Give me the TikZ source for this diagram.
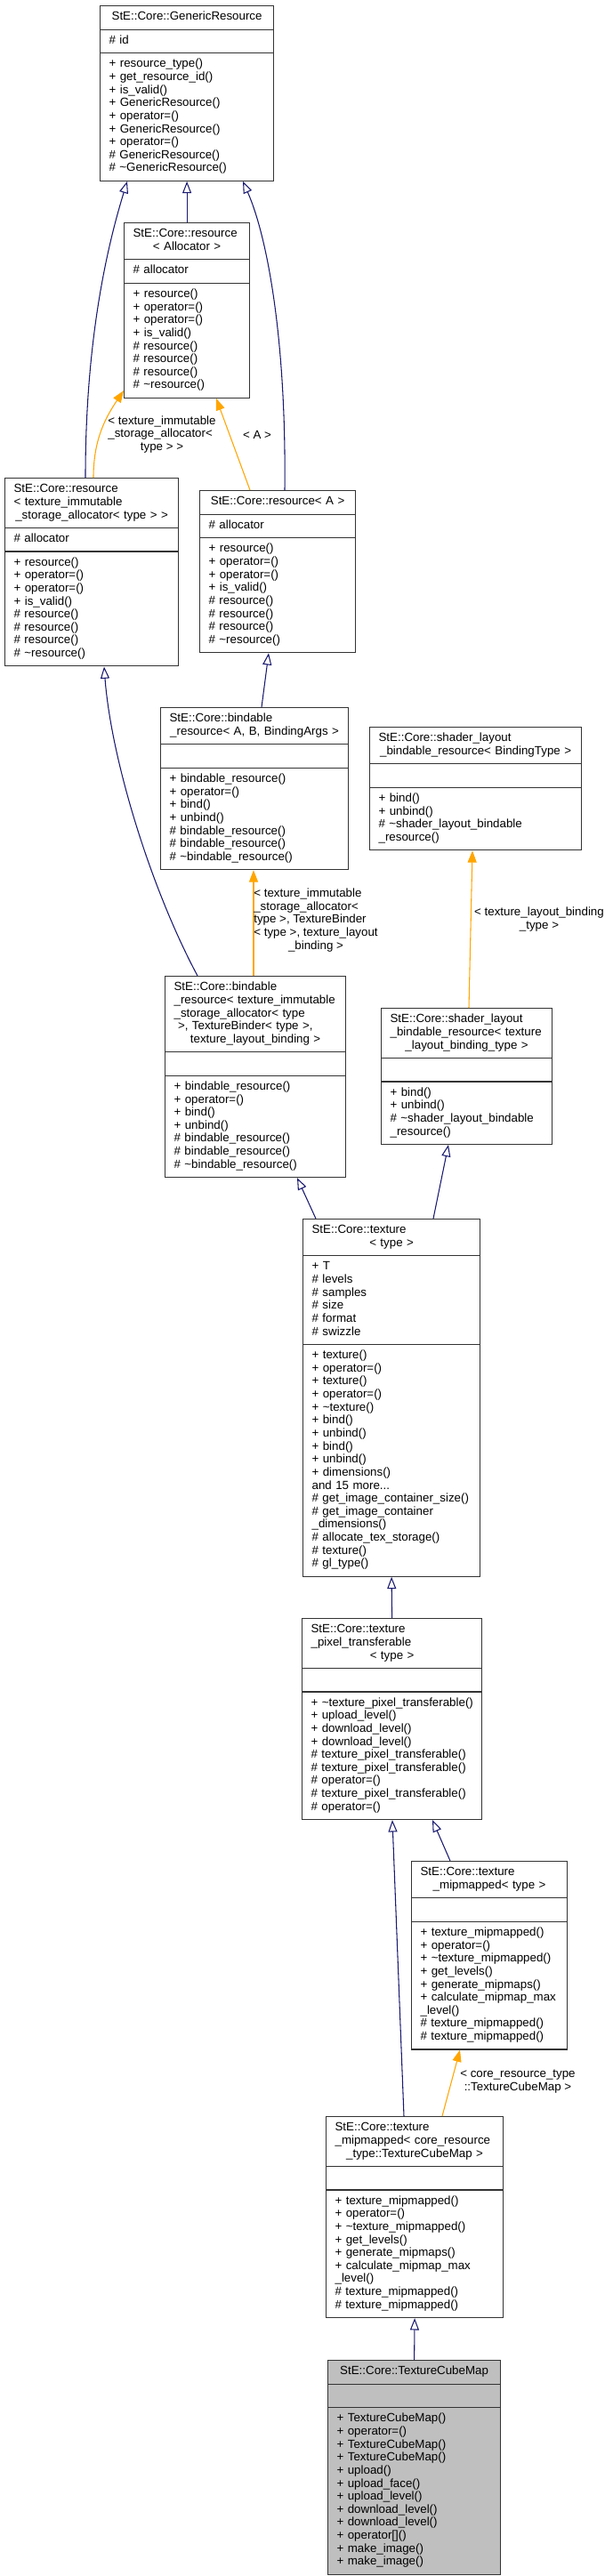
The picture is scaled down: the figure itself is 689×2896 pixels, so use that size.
\documentclass[tikz,border=0pt]{standalone}
\usepackage{fontspec}
\setmainfont{Liberation Sans}
\usetikzlibrary{shapes.multipart,arrows.meta}

\definecolor{midnight}{HTML}{191970}
\definecolor{tmplorange}{HTML}{FFA500}

\newcommand{\titleline}[1]{\makebox[\hsize][l]{\strut#1}}
\newcommand{\titlelast}[1]{\makebox[\hsize][c]{\strut#1}}
\newcommand{\memberlist}[1]{\begin{tabular}{@{}l@{}}#1\end{tabular}}
\newcommand{\labellines}[2]{\begin{tabular}{@{}l@{}}#1\\\multicolumn{1}{@{}c@{}}{#2}\end{tabular}}

\tikzset{
	cls/.style={rectangle split, rectangle split parts=3, draw=black!80, line width=0.9pt,
		fill=white, inner xsep=7.5pt, inner ysep=4pt, align=left, anchor=north west,
		font=\fontsize{10pt}{10.98pt}\selectfont},
	lbl/.style={inner sep=0pt, font=\fontsize{10pt}{10.98pt}\selectfont},
	inherit/.style={draw=midnight, line width=0.8pt, -{Triangle[open, length=10pt, width=7.5pt]}},
	templ/.style={draw=tmplorange, line width=0.8pt, -{Triangle[length=10pt, width=7.5pt]}}
}

\begin{document}
\begin{tikzpicture}[x=0.75pt, y=-0.75pt]
	\fill[white] (0,0) rectangle (689,2896);

	% classes
	\node[cls, text width=131.25pt] (gr) at (112,6)
		{\titlelast{StE::Core::GenericResource}
		\nodepart{second}\memberlist{\# id}
		\nodepart{third}\memberlist{+ resource\_type()\\+ get\_resource\_id()\\+ is\_valid()\\+ GenericResource()\\+ operator=()\\+ GenericResource()\\+ operator=()\\\# GenericResource()\\\# \textasciitilde GenericResource()}};
	\node[cls, text width=90.75pt] (resalloc) at (139,250)
		{\titleline{StE::Core::resource}\\\titlelast{< Allocator >}
		\nodepart{second}\memberlist{\# allocator}
		\nodepart{third}\memberlist{+ resource()\\+ operator=()\\+ operator=()\\+ is\_valid()\\\# resource()\\\# resource()\\\# resource()\\\# \textasciitilde resource()}};
	\node[cls, text width=131.25pt] (restex) at (5,537)
		{\titleline{StE::Core::resource}\\\titleline{< texture\_immutable}\\\titlelast{\_storage\_allocator< type > >}
		\nodepart{second}\memberlist{\# allocator}
		\nodepart{third}\memberlist{+ resource()\\+ operator=()\\+ operator=()\\+ is\_valid()\\\# resource()\\\# resource()\\\# resource()\\\# \textasciitilde resource()}};
	\node[cls, text width=116.25pt] (resa) at (224,551)
		{\titlelast{StE::Core::resource< A >}
		\nodepart{second}\memberlist{\# allocator}
		\nodepart{third}\memberlist{+ resource()\\+ operator=()\\+ operator=()\\+ is\_valid()\\\# resource()\\\# resource()\\\# resource()\\\# \textasciitilde resource()}};
	\node[cls, text width=143.25pt] (bindabc) at (180,795)
		{\titleline{StE::Core::bindable}\\\titlelast{\_resource< A, B, BindingArgs >}
		\nodepart{second}\strut
		\nodepart{third}\memberlist{+ bindable\_resource()\\+ operator=()\\+ bind()\\+ unbind()\\\# bindable\_resource()\\\# bindable\_resource()\\\# \textasciitilde bindable\_resource()}};
	\node[cls, text width=163.5pt] (shlgen) at (415,817)
		{\titleline{StE::Core::shader\_layout}\\\titlelast{\_bindable\_resource< BindingType >}
		\nodepart{second}\strut
		\nodepart{third}\memberlist{+ bind()\\+ unbind()\\\# \textasciitilde shader\_layout\_bindable\\\_resource()}};
	\node[cls, text width=137.25pt] (bindtex) at (185,1097)
		{\titleline{StE::Core::bindable}\\\titleline{\_resource< texture\_immutable}\\\titleline{\_storage\_allocator< type}\\\titleline{\ >, TextureBinder< type >,}\\\titlelast{texture\_layout\_binding >}
		\nodepart{second}\strut
		\nodepart{third}\memberlist{+ bindable\_resource()\\+ operator=()\\+ bind()\\+ unbind()\\\# bindable\_resource()\\\# bindable\_resource()\\\# \textasciitilde bindable\_resource()}};
	\node[cls, text width=129pt] (shltex) at (428,1133)
		{\titleline{StE::Core::shader\_layout}\\\titleline{\_bindable\_resource< texture}\\\titlelast{\_layout\_binding\_type >}
		\nodepart{second}\strut
		\nodepart{third}\memberlist{+ bind()\\+ unbind()\\\# \textasciitilde shader\_layout\_bindable\\\_resource()}};
	\node[cls, text width=134.25pt] (tex) at (340,1370)
		{\titleline{StE::Core::texture}\\\titlelast{< type >}
		\nodepart{second}\memberlist{+ T\\\# levels\\\# samples\\\# size\\\# format\\\# swizzle}
		\nodepart{third}\memberlist{+ texture()\\+ operator=()\\+ texture()\\+ operator=()\\+ \textasciitilde texture()\\+ bind()\\+ unbind()\\+ bind()\\+ unbind()\\+ dimensions()\\and 15 more...\\\# get\_image\_container\_size()\\\# get\_image\_container\\\_dimensions()\\\# allocate\_tex\_storage()\\\# texture()\\\# gl\_type()}};
	\node[cls, text width=136.5pt] (pixtr) at (339,1819)
		{\titleline{StE::Core::texture}\\\titleline{\_pixel\_transferable}\\\titlelast{< type >}
		\nodepart{second}\strut
		\nodepart{third}\memberlist{+ \textasciitilde texture\_pixel\_transferable()\\+ upload\_level()\\+ download\_level()\\+ download\_level()\\\# texture\_pixel\_transferable()\\\# texture\_pixel\_transferable()\\\# operator=()\\\# texture\_pixel\_transferable()\\\# operator=()}};
	\node[cls, text width=116.25pt] (mipgen) at (462,2092)
		{\titleline{StE::Core::texture}\\\titlelast{\_mipmapped< type >}
		\nodepart{second}\strut
		\nodepart{third}\memberlist{+ texture\_mipmapped()\\+ operator=()\\+ \textasciitilde texture\_mipmapped()\\+ get\_levels()\\+ generate\_mipmaps()\\+ calculate\_mipmap\_max\\\_level()\\\# texture\_mipmapped()\\\# texture\_mipmapped()}};
	\node[cls, text width=134.25pt] (mipcube) at (366,2379)
		{\titleline{StE::Core::texture}\\\titleline{\_mipmapped< core\_resource}\\\titlelast{\_type::TextureCubeMap >}
		\nodepart{second}\strut
		\nodepart{third}\memberlist{+ texture\_mipmapped()\\+ operator=()\\+ \textasciitilde texture\_mipmapped()\\+ get\_levels()\\+ generate\_mipmaps()\\+ calculate\_mipmap\_max\\\_level()\\\# texture\_mipmapped()\\\# texture\_mipmapped()}};
	\node[cls, text width=130.5pt, fill=gray!50] (cube) at (368,2653)
		{\titlelast{StE::Core::TextureCubeMap}
		\nodepart{second}\strut
		\nodepart{third}\memberlist{+ TextureCubeMap()\\+ operator=()\\+ TextureCubeMap()\\+ TextureCubeMap()\\+ upload()\\+ upload\_face()\\+ upload\_level()\\+ download\_level()\\+ download\_level()\\+ operator[]()\\+ make\_image()\\+ make\_image()}};

	% inheritance
	\draw[inherit] (resalloc.north) -- (gr.south);
	\draw[inherit] ([xshift=68.25pt]restex.north west) .. controls +(0,-137) and +(-28,91) .. ([xshift=23.25pt]gr.south west);
	\draw[inherit] ([xshift=72pt]resa.north west) .. controls +(2,-171) and +(27,61) .. ([xshift=120.75pt]gr.south west);
	\draw[inherit] ([xshift=85.5pt]bindabc.north west) -- ([xshift=58.5pt]resa.south west);
	\draw[inherit] ([xshift=27.75pt]bindtex.north west) .. controls +(-52,-97) and +(8,105) .. ([xshift=84pt]restex.south west);
	\draw[inherit] ([xshift=11.25pt]tex.north west) -- ([xshift=111.75pt]bindtex.south west);
	\draw[inherit] ([xshift=110.25pt]tex.north west) -- ([xshift=57pt]shltex.south west);
	\draw[inherit] (pixtr.north) -- (tex.south);
	\draw[inherit] ([xshift=33pt]mipgen.north west) -- ([xshift=110.25pt]pixtr.south west);
	\draw[inherit] ([xshift=66pt]mipcube.north west) -- ([xshift=76.5pt]pixtr.south west);
	\draw[inherit] (cube.north) -- (mipcube.south);

	% template instances
	\draw[templ] ([xshift=75pt]restex.north west) .. controls +(0,-42) and +(-21,31) .. ([yshift=6.5pt]resalloc.south west);
	\draw[templ] ([xshift=42.75pt]resa.north west) -- ([xshift=78pt]resalloc.south west);
	\draw[templ] ([xshift=75pt]bindtex.north west) -- ([xshift=78.75pt]bindabc.south west);
	\draw[templ] ([xshift=74.25pt]shltex.north west) -- ([xshift=87pt]shlgen.south west);
	\draw[templ] ([xshift=98.25pt]mipcube.north west) -- ([xshift=41.25pt]mipgen.south west);

	\node[lbl] (lrestex) at (182,489) {\labellines{< texture\_immutable\\\_storage\_allocator<}{type > >}};
	\node[lbl] (lresa) at (289,489) {< A >};
	\node[lbl] (lbindtex) at (355,1035) {\labellines{< texture\_immutable\\\_storage\_allocator<\\type >, TextureBinder\\< type >, texture\_layout}{\_binding >}};
	\node[lbl] (lshltex) at (606,1034) {\labellines{< texture\_layout\_binding}{\_type >}};
	\node[lbl] (lmipcube) at (582,2340) {\labellines{< core\_resource\_type}{::TextureCubeMap >}};
\end{tikzpicture}
\end{document}
